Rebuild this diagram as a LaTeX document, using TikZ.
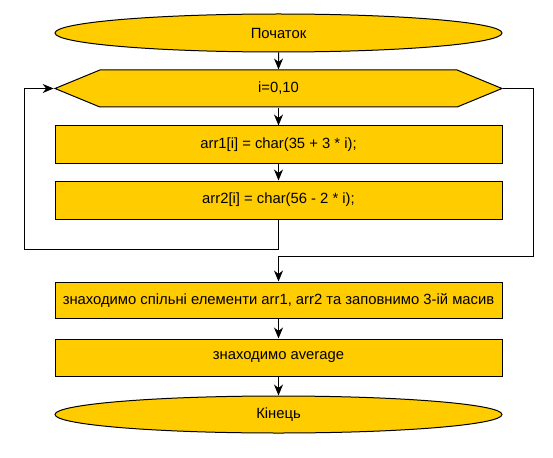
\documentclass[tikz,border=0pt]{standalone}
\usepackage{fontspec}
\setmainfont{Liberation Sans}
\usepackage{tikz}
\usetikzlibrary{arrows.meta}
\usetikzlibrary{shapes.geometric,shapes.symbols}
\definecolor{blockfill}{RGB}{255,204,0}

\begin{document}
\begin{tikzpicture}[
        x=1pt, y=-1pt,
        line width=1pt,
        >={Stealth[length=11pt,width=9pt,inset=3.5pt]},
        block/.style={rectangle, draw=black, fill=blockfill, minimum width=447pt, minimum height=#1, inner sep=0pt, font=\fontsize{14.8pt}{17pt}\selectfont},
        block/.default=37pt,
        term/.style={ellipse, draw=black, fill=blockfill, minimum width=447pt, minimum height=38pt, inner sep=0pt, font=\fontsize{14.8pt}{17pt}\selectfont},
        cycle/.style={signal, signal to=west and east, signal pointer angle=44.8, draw=black, fill=blockfill, minimum width=447pt, minimum height=37pt, inner sep=0pt, font=\fontsize{14.8pt}{17pt}\selectfont},
    ]
    \useasboundingbox (0,0) rectangle (553,457);
    % start
    \node[term] (start) at (278.5,33) {Початок};
    % loop
    \node[cycle] (loop) at (278.5,88.5) {i=0,10};
    \node[block] (arr1) at (278.5,144.5) {arr1[i] = char(35 + 3 * i);};
    \node[block=38pt] (arr2) at (278.5,200) {arr2[i] = char(56 - 2 * i);};
    % after loop
    \node[block=36pt] (common) at (278.5,300) {знаходимо спільні елементи arr1, arr2 та заповнимо 3-ій масив};
    \node[block] (avg) at (278.5,357.5) {знаходимо average};
    % end
    \node[term, minimum height=37pt] (finish) at (278.5,414.5) {Кінець};
    \coordinate (back) at (24,249);
    \coordinate (exit) at (533,256);
    \draw[->] (start) -- (loop);
    \draw[->] (loop) -- (arr1);
    \draw[->] (arr1) -- (arr2);
    % back to loop
    \draw[->] (arr2.south) |- (back) |- (loop.west);
    % loop exit
    \draw[->] (loop.east) -| (exit) -| (common.north);
    \draw[->] (common) -- (avg);
    \draw[->] (avg) -- (finish);
\end{tikzpicture}
\end{document}
